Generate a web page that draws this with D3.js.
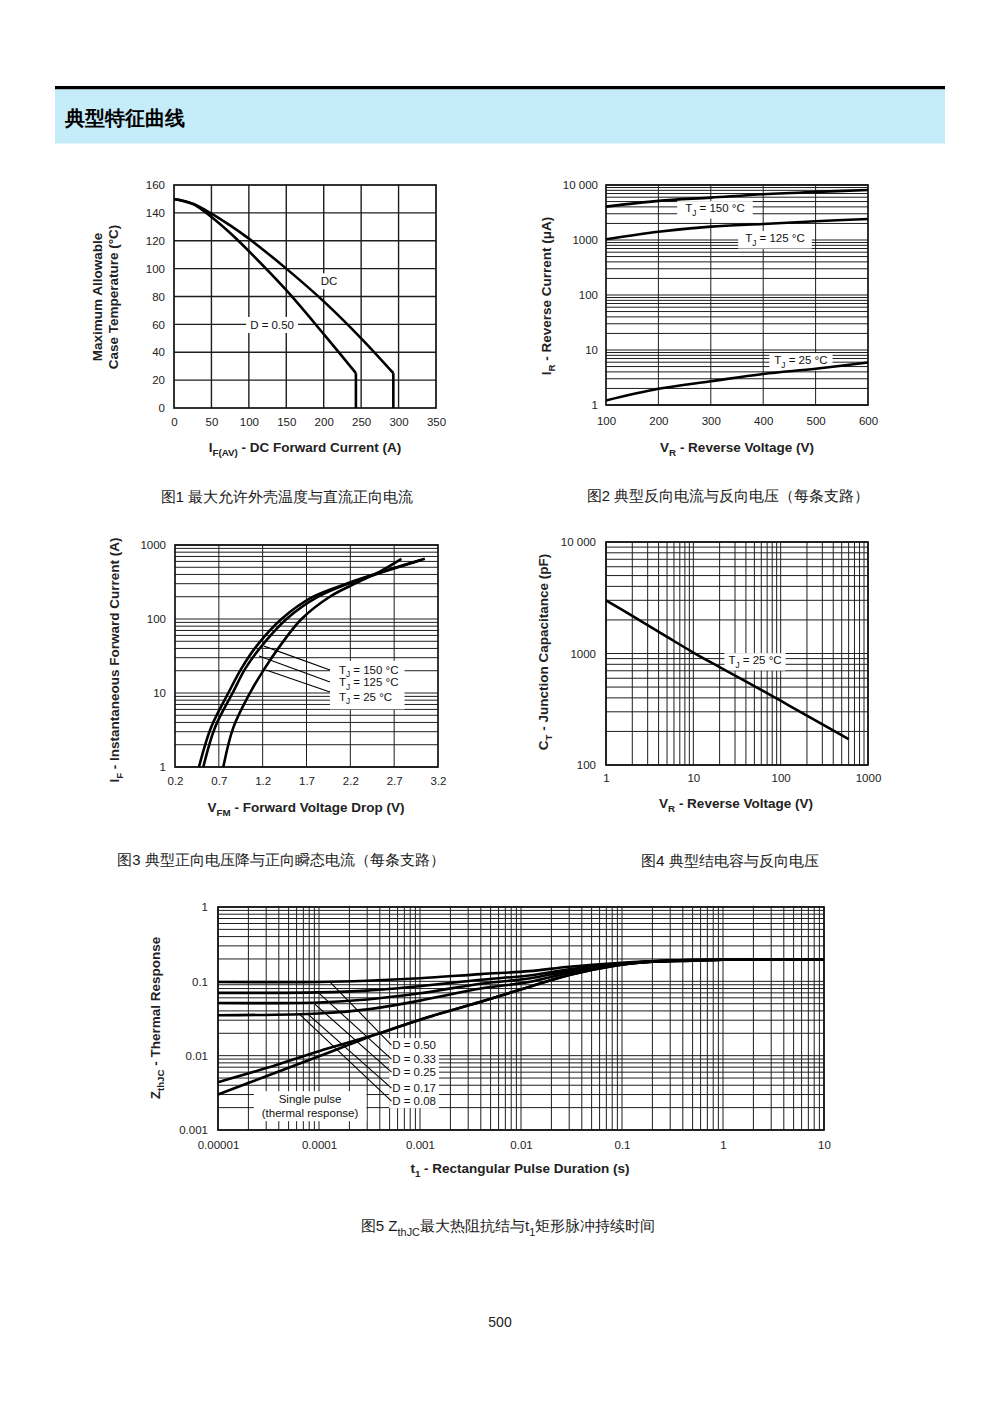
<!DOCTYPE html>
<html><head><meta charset="utf-8">
<script src="https://cdn.jsdelivr.net/npm/d3@7"></script>
<style>
body{margin:0;background:#fff;}
svg text{font-family:"Liberation Sans",Arial,Helvetica,sans-serif;}
</style></head><body>
<svg id="page" width="1000" height="1414"></svg>
<script>
// ---------------- DATA ----------------
// Fig 1: max allowable case temperature vs DC forward current
const fig1XTicks = [0,50,100,150,200,250,300,350];
const fig1YTicks = [0,20,40,60,80,100,120,140,160];
const fig1DC     = [[0,150],[25,146.5],[50,139.5],[75,131],[100,121.5],[150,100],[200,76.5],[250,50],[293,25]];
const fig1DCDrop = [[293,25],[293,0]];
const fig1D050     = [[0,150],[25,146.5],[50,137],[75,125.5],[100,112.5],[150,84.5],[200,53],[243,25]];
const fig1D050Drop = [[243,25],[243,0]];

// Fig 2: reverse current vs reverse voltage
const fig2XTicks = [100,200,300,400,500,600];
const fig2YTicks = [1,10,100,1000,10000];
const fig2YTickLabels = ["1","10","100","1000","10 000"];
const fig2V    = [100,200,300,400,500,600];
const fig2I150 = [4050,5150,5900,6800,7500,8100];
const fig2I125 = [1030,1410,1750,1960,2190,2415];
const fig2I25  = [1.21,1.97,2.7,3.66,4.57,5.94];

// Fig 3: forward voltage drop vs instantaneous forward current
const fig3XTicks = [0.2,0.7,1.2,1.7,2.2,2.7,3.2];
const fig3YTicks = [1,10,100,1000];
const fig3T150 = [[0.473,1],[0.61,3.4],[0.808,10],[0.96,21.7],[1.13,43],[1.415,100],[1.776,200],[2.156,300],[2.57,437],[3.05,650]];
const fig3T125 = [[0.523,1],[0.655,3.4],[0.857,10],[1.005,21.7],[1.187,43],[1.472,100],[1.833,200],[2.175,300],[2.59,437],[3.01,628]];
const fig3T25  = [[0.751,1],[0.865,3.4],[1.055,10],[1.225,21.7],[1.396,43],[1.643,100],[1.966,200],[2.251,300],[2.536,437],[2.783,650]];
const fig3LeaderFrom = [[1.215,43],[1.158,31.6],[1.238,20.5]];
const fig3LeaderTo   = [[1.968,20.5],[1.968,14.1],[1.968,10.3]];
const fig3LabelPos   = [[2.07,20.6],[2.07,14.1],[2.07,8.9]];
const fig3Labels = ["150","125","25"];

// Fig 4: junction capacitance vs reverse voltage
const fig4XTicks = [1,10,100,1000];
const fig4YTicks = [100,1000,10000];
const fig4YTickLabels = ["100","1000","10 000"];
const fig4V = [1,2,5,10,20,50,100,200,600];
const fig4C = [3000,2175,1410,1020,755,510,377,277,171];

// Fig 5: transient thermal impedance vs pulse duration
const fig5XTicks = [1e-5,1e-4,1e-3,1e-2,1e-1,1,10];
const fig5XTickLabels = ["0.00001","0.0001","0.001","0.01","0.1","1","10"];
const fig5YTicks = [0.001,0.01,0.1,1];
const fig5YTickLabels = ["0.001","0.01","0.1","1"];
const fig5D050 = [[1e-5,0.098],[1e-4,0.098],[3e-4,0.102],[1e-3,0.11],[4e-3,0.125],[1.2e-2,0.137],[3e-2,0.157],[0.1,0.178],[0.3,0.19],[1,0.195],[10,0.195]];
const fig5D033 = [[1e-5,0.070],[1e-4,0.071],[3e-4,0.075],[1e-3,0.086],[4e-3,0.105],[1.2e-2,0.12],[3e-2,0.145],[0.1,0.175],[0.3,0.19],[1,0.195],[10,0.195]];
const fig5D025 = [[1e-5,0.051],[1e-4,0.052],[3e-4,0.057],[1e-3,0.069],[4e-3,0.093],[1.2e-2,0.109],[3e-2,0.138],[0.1,0.172],[0.3,0.19],[1,0.195],[10,0.195]];
const fig5D017 = [[1e-5,0.035],[1e-4,0.037],[3e-4,0.042],[1e-3,0.055],[4e-3,0.08],[1.2e-2,0.098],[3e-2,0.13],[0.1,0.17],[0.3,0.19],[1,0.195],[10,0.195]];
const fig5D008 = [[1e-5,0.0044],[3e-5,0.0068],[1e-4,0.0115],[3.75e-4,0.0195],[1e-3,0.0305],[4e-3,0.053],[1.2e-2,0.084],[3e-2,0.122],[0.08,0.16],[0.2,0.183],[0.5,0.19],[1,0.195],[10,0.195]];
const fig5Single = [[1e-5,0.0030],[3e-5,0.0053],[1e-4,0.0098],[3.75e-4,0.0195],[1e-3,0.0305],[4e-3,0.053],[1.2e-2,0.084],[3e-2,0.122],[0.08,0.16],[0.2,0.183],[0.5,0.19],[1,0.195],[10,0.195]];
const fig5DLabels = ["D = 0.50","D = 0.33","D = 0.25","D = 0.17","D = 0.08"];
const fig5LabelZ  = [0.0139,0.0090,0.0060,0.00366,0.00245];
const fig5LabelT  = 5.3e-4;
const fig5LeaderFrom = [[1.28e-4,0.098],[9.8e-5,0.071],[8.7e-5,0.052],[7.8e-5,0.036],[6.5e-5,0.0355]];

// Captions (cx, cy = centre, w = rendered width)
const captions = [
  {cx:287, cy:496, w:258, parts:["图1 最大允许外壳温度与直流正向电流"]},
  {cx:728, cy:496, w:280, parts:["图2 典型反向电流与反向电压（每条支路）"]},
  {cx:281, cy:860, w:325, parts:["图3 典型正向电压降与正向瞬态电流（每条支路）"]},
  {cx:730, cy:860, w:182, parts:["图4 典型结电容与反向电压"]},
  {cx:508, cy:1226, w:296, parts:["图5 Z",{sub:"thJC"},"最大热阻抗结与t",{sub:"1"},"矩形脉冲持续时间"]}
];

// ---------------- HELPERS ----------------
const svg = d3.select("#page");
const FONT = '"Liberation Sans",Arial,Helvetica,sans-serif';
const CJK = '"Noto Sans CJK SC","Noto Sans CJK JP",sans-serif';

function logGrid(lo, hi){
  const out=[];
  for(let e=Math.floor(Math.log10(lo)); e<=Math.ceil(Math.log10(hi)); e++){
    for(let k=1;k<=9;k++){ const v=k*Math.pow(10,e); if(v>=lo*0.9999 && v<=hi*1.0001) out.push(v); }
  }
  return out;
}

function rich(t, parts, fs){
  let prevSub=false;
  parts.forEach(p=>{
    if(typeof p === "object"){
      t.append("tspan").attr("font-size", fs*0.72).attr("dy", fs*0.3).text(p.sub);
      prevSub=true;
    } else {
      const s=t.append("tspan").text(p);
      if(prevSub) s.attr("dy", -fs*0.3);
      prevSub=false;
    }
  });
}

function panel(cfg){
  const g = svg.append("g");
  const x=cfg.x, y=cfg.y;
  const [xa,xb]=x.range(), [ya,yb]=y.range(); // ya bottom, yb top
  const grid=g.append("g").attr("stroke","#1e1e1e").attr("stroke-width",cfg.gridW||1).attr("fill","none");
  grid.selectAll("line.v").data(cfg.xGrid).join("line").attr("class","v")
    .attr("x1",d=>x(d)).attr("x2",d=>x(d)).attr("y1",ya).attr("y2",yb);
  grid.selectAll("line.h").data(cfg.yGrid).join("line").attr("class","h")
    .attr("x1",xa).attr("x2",xb).attr("y1",d=>y(d)).attr("y2",d=>y(d));
  g.append("rect").attr("x",xa).attr("y",yb).attr("width",xb-xa).attr("height",ya-yb)
    .attr("fill","none").attr("stroke","#111").attr("stroke-width",1.7);
  const tfs=11.5;
  const axB=g.append("g").attr("transform",`translate(0,${ya})`)
    .call(d3.axisBottom(x).tickValues(cfg.xTicks).tickFormat((d,i)=>cfg.xLabels?cfg.xLabels[i]:d).tickSize(0).tickPadding(cfg.xPad));
  axB.select(".domain").remove();
  axB.attr("font-size",tfs).attr("font-family",FONT);
  axB.selectAll("text").attr("fill","#222");
  const axL=g.append("g").attr("transform",`translate(${xa},0)`)
    .call(d3.axisLeft(y).tickValues(cfg.yTicks).tickFormat((d,i)=>cfg.yLabels?cfg.yLabels[i]:d).tickSize(0).tickPadding(cfg.yPad));
  axL.select(".domain").remove();
  axL.attr("font-size",tfs).attr("font-family",FONT);
  axL.selectAll("text").attr("fill","#222");
  // titles
  const fs=13.5;
  const xt=g.append("text").attr("x",cfg.xTitlePos[0]).attr("y",cfg.xTitlePos[1]+fs*0.35)
    .attr("text-anchor","middle").attr("font-weight","bold").attr("font-size",fs).attr("fill","#222");
  rich(xt,cfg.xTitle,fs);
  cfg.yTitle.forEach((parts,i)=>{
    const p=cfg.yTitlePos[i];
    const yt=g.append("text").attr("transform",`translate(${p[0]+fs*0.35},${p[1]}) rotate(-90)`)
      .attr("text-anchor","middle").attr("font-weight","bold").attr("font-size",fs).attr("fill","#222");
    rich(yt,parts,fs);
  });
  return g;
}

function labels(g, items, opts){
  const fs=opts.fs||11.5;
  const grp=g.append("g").attr("font-size",fs).attr("fill","#111").attr("font-family",FONT);
  const rect=grp.append("rect").attr("fill","#fff");
  const nodes=items.map(it=>{
    const t=grp.append("text").attr("x",it[0]).attr("y",it[1]+fs*0.36).attr("text-anchor",opts.anchor||"middle");
    rich(t,it[2],fs);
    return t.node();
  });
  let x0=Infinity,y0=Infinity,x1=-Infinity,y1=-Infinity;
  nodes.forEach(n=>{const b=n.getBBox(); x0=Math.min(x0,b.x); y0=Math.min(y0,b.y); x1=Math.max(x1,b.x+b.width); y1=Math.max(y1,b.y+b.height);});
  const pl=opts.padL!=null?opts.padL:(opts.padX||5), pr=opts.padR!=null?opts.padR:(opts.padX||5), py=opts.padY||1;
  rect.attr("x",x0-pl).attr("y",y0-py).attr("width",x1-x0+pl+pr).attr("height",y1-y0+2*py);
  return grp;
}

function curve(g, x, y, pts, w, type){
  g.append("path").datum(pts).attr("fill","none").attr("stroke","#000").attr("stroke-width",w||2.6)
    .attr("stroke-linejoin","round")
    .attr("d",d3.line().x(d=>x(d[0])).y(d=>y(d[1])).curve(type||d3.curveCatmullRom.alpha(0.5)));
}
function seg(g,x,y,a,b,w){
  g.append("line").attr("x1",x(a[0])).attr("y1",y(a[1])).attr("x2",x(b[0])).attr("y2",y(b[1]))
    .attr("stroke","#000").attr("stroke-width",w||1.2);
}

// ---------------- HEADER ----------------
svg.append("rect").attr("x",55).attr("y",86).attr("width",890).attr("height",3.5).attr("fill","#000");
svg.append("rect").attr("x",55).attr("y",89.5).attr("width",890).attr("height",54).attr("fill","#c5ecf9");
svg.append("text").attr("x",65).attr("y",125).attr("font-family",CJK).attr("font-weight","bold")
  .attr("font-size",19.5).attr("fill","#000").text("典型特征曲线");

// ---------------- FIG 1 ----------------
{
  const x=d3.scaleLinear([0,350],[174,436]);
  const y=d3.scaleLinear([0,160],[408,185]);
  const g=panel({x,y,xGrid:[50,100,150,200,250,300],yGrid:[20,40,60,80,100,120,140],gridW:1.4,
    xTicks:fig1XTicks,yTicks:fig1YTicks,xPad:10,yPad:9,
    xTitle:["I",{sub:"F(AV)"}," - DC Forward Current (A)"],xTitlePos:[305,447],
    yTitle:[["Maximum Allowable"],["Case Temperature (°C)"]],yTitlePos:[[97,297],[113,297]]});
  labels(g,[[x(207),y(91),["DC"]]],{padX:3,padY:2});
  labels(g,[[x(131),y(59.7),["D = 0.50"]]],{padX:4,padY:2});
  curve(g,x,y,fig1DC); curve(g,x,y,fig1DCDrop,2.6,d3.curveLinear);
  curve(g,x,y,fig1D050); curve(g,x,y,fig1D050Drop,2.6,d3.curveLinear);
}

// ---------------- FIG 2 ----------------
{
  const x=d3.scaleLinear([100,600],[606,868]);
  const y=d3.scaleLog([1,10000],[405,185]);
  const g=panel({x,y,xGrid:[200,300,400,500],yGrid:logGrid(1,10000),
    xTicks:fig2XTicks,yTicks:fig2YTicks,yLabels:fig2YTickLabels,xPad:12,yPad:8,
    xTitle:["V",{sub:"R"}," - Reverse Voltage (V)"],xTitlePos:[737,447],
    yTitle:[["I",{sub:"R"}," - Reverse Current (μA)"]],yTitlePos:[[546,296]]});
  labels(g,[[x(308),y(3820),["T",{sub:"J"}," = 150 °C"]]],{padX:8,padY:1});
  labels(g,[[x(422.5),y(1088),["T",{sub:"J"}," = 125 °C"]]],{padX:7,padY:1});
  labels(g,[[x(472),y(6.58),["T",{sub:"J"}," = 25 °C"]]],{padX:5,padY:1});
  [fig2I150,fig2I125,fig2I25].forEach(s=>curve(g,x,y,fig2V.map((v,i)=>[v,s[i]])));
}

// ---------------- FIG 3 ----------------
{
  const x=d3.scaleLinear([0.2,3.2],[175,438]);
  const y=d3.scaleLog([1,1000],[767,545]);
  const g=panel({x,y,xGrid:[0.7,1.2,1.7,2.2,2.7],yGrid:logGrid(1,1000),
    xTicks:fig3XTicks,yTicks:fig3YTicks,xPad:10,yPad:9,
    xTitle:["V",{sub:"FM"}," - Forward Voltage Drop (V)"],xTitlePos:[306,807],
    yTitle:[["I",{sub:"F"}," - Instantaneous Forward Current (A)"]],yTitlePos:[[114,660]]});
  labels(g,fig3LabelPos.map((p,i)=>[x(p[0]),y(p[1]),["T",{sub:"J"}," = "+fig3Labels[i]+" °C"]]),
    {anchor:"start",padL:9,padR:6,padY:3});
  fig3LeaderFrom.forEach((a,i)=>seg(g,x,y,a,fig3LeaderTo[i],1.1));
  curve(g,x,y,fig3T150); curve(g,x,y,fig3T125); curve(g,x,y,fig3T25);
}

// ---------------- FIG 4 ----------------
{
  const x=d3.scaleLog([1,1000],[606,868]);
  const y=d3.scaleLog([100,10000],[765,542]);
  const g=panel({x,y,xGrid:logGrid(1,1000),yGrid:logGrid(100,10000),
    xTicks:fig4XTicks,yTicks:fig4YTicks,yLabels:fig4YTickLabels,xPad:9,yPad:10,
    xTitle:["V",{sub:"R"}," - Reverse Voltage (V)"],xTitlePos:[736,803],
    yTitle:[["C",{sub:"T"}," - Junction Capacitance (pF)"]],yTitlePos:[[543,652]]});
  labels(g,[[x(50.8),y(875),["T",{sub:"J"}," = 25 °C"]]],{padX:4,padY:1});
  curve(g,x,y,fig4V.map((v,i)=>[v,fig4C[i]]));
}

// ---------------- FIG 5 ----------------
{
  const x=d3.scaleLog([1e-5,10],[218,824]);
  const y=d3.scaleLog([0.001,1],[1130,907]);
  const g=panel({x,y,xGrid:logGrid(1e-5,10),yGrid:logGrid(0.001,1),
    xTicks:fig5XTicks,xLabels:fig5XTickLabels,yTicks:fig5YTicks,yLabels:fig5YTickLabels,xPad:11,yPad:10,
    xTitle:["t",{sub:"1"}," - Rectangular Pulse Duration (s)"],xTitlePos:[520,1168],
    yTitle:[["Z",{sub:"thJC"}," - Thermal Response"]],yTitlePos:[[155,1018]]});
  labels(g,[[x(8.15e-5),y(0.0021)-7,["Single pulse"]],[x(8.15e-5),y(0.0021)+7,["(thermal response)"]]],
    {padX:8,padY:2});
  labels(g,fig5DLabels.map((t,i)=>[x(fig5LabelT),y(fig5LabelZ[i]),[t]]),{anchor:"start",padL:3,padR:3,padY:1});
  fig5LeaderFrom.forEach((a,i)=>seg(g,x,y,a,[fig5LabelT*0.985,fig5LabelZ[i]],1.1));
  [fig5D050,fig5D033,fig5D025,fig5D017,fig5D008,fig5Single].forEach(s=>curve(g,x,y,s));
}

// ---------------- CAPTIONS ----------------
captions.forEach(c=>{
  let fs=15;
  const t=svg.append("text").attr("x",c.cx).attr("y",c.cy+fs*0.36).attr("text-anchor","middle")
    .attr("font-family",CJK).attr("font-size",fs).attr("fill","#1a1a1a");
  rich(t,c.parts,fs);
  const w=t.node().getComputedTextLength();
  const k=c.w/w;
  fs=fs*k;
  t.attr("font-size",fs).attr("y",c.cy+fs*0.36);
  t.selectAll("tspan").each(function(){
    const s=d3.select(this);
    if(s.attr("font-size")) s.attr("font-size",+s.attr("font-size")*k);
    if(s.attr("dy")) s.attr("dy",+s.attr("dy")*k);
  });
});
svg.append("text").attr("x",500).attr("y",1327).attr("text-anchor","middle")
  .attr("font-family",FONT).attr("font-size",14).attr("fill","#222").text("500");
</script>
</body></html>
